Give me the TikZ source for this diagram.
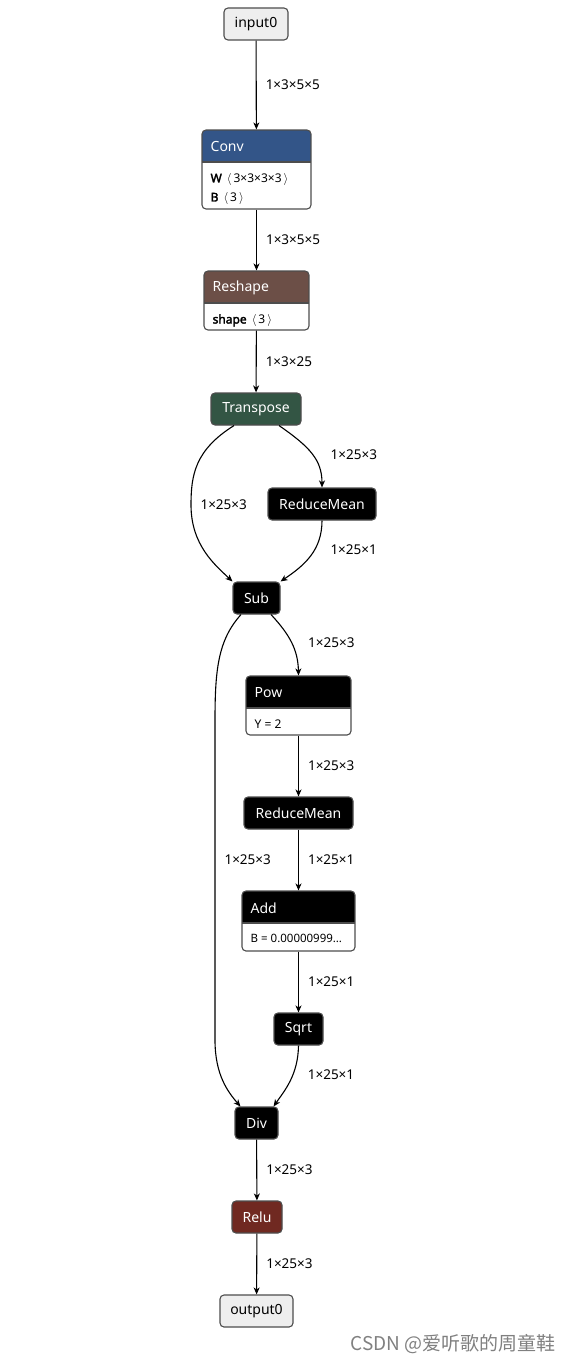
\documentclass[tikz,border=0pt]{standalone}
\usepackage{fontspec}
\setmainfont{Noto Sans}[AutoFakeBold=2.5]
\newfontfamily\cjkfont{Noto Sans CJK SC}
\usepackage{xcolor}
\usepackage{tikz}
\usetikzlibrary{arrows.meta}
\definecolor{convblue}{HTML}{335588}
\definecolor{shapebrown}{HTML}{6C4F47}
\definecolor{transgreen}{HTML}{335544}
\definecolor{actred}{HTML}{702921}
\definecolor{iogray}{HTML}{EEEEEE}
\definecolor{opline}{HTML}{4D4D4D}

\begin{document}
\begin{tikzpicture}[x=1pt, y=-1pt,
      op/.style={draw=opline, line width=1.1pt, rounded corners=4pt, fill=black,
                 text=white, minimum height=32pt, inner sep=0pt,
                 font=\fontsize{14}{16}\selectfont},
      io/.style={op, fill=iogray, text=black},
      hop/.style={op, fill=white, path picture={
                 \fill[#1, sharp corners] (path picture bounding box.north west)
                   rectangle ([yshift=-32pt]path picture bounding box.north east);
                 \draw[opline, line width=1.1pt, sharp corners]
                   ([yshift=-32pt]path picture bounding box.north west)
                   -- ([yshift=-32pt]path picture bounding box.north east);}},
      htxt/.style={anchor=west, inner sep=0pt, text=white,
                   font=\fontsize{14}{16}\selectfont},
      atxt/.style={anchor=west, inner sep=0pt, align=left,
                   font=\fontsize{12}{19}\selectfont},
      arr/.style={-{Stealth[length=7pt, width=6pt, inset=2pt]}, line width=1.1pt},
      lbl/.style={right=9pt, inner sep=0pt, font=\fontsize{13.5}{15}\selectfont}
    ]
    \useasboundingbox (0,0) rectangle (572,1364);
    % Nodes
    \node[io, minimum width=64pt]  (input)     at (256,24)      {input0};
    \node[hop=convblue, minimum width=109pt, minimum height=79pt]  (conv)    at (256.5,169.5) {};
    \node[hop=shapebrown, minimum width=105pt, minimum height=59pt] (reshape) at (256.5,300.5) {};
    \node[op, fill=transgreen, minimum width=90pt] (transpose) at (256,409)     {Transpose};
    \node[op, minimum width=108pt] (rmean)     at (322,504)     {ReduceMean};
    \node[op, minimum width=47pt]  (sub)       at (256.5,598)   {Sub};
    \node[hop=black, minimum width=105pt, minimum height=59pt] (pow) at (298.5,705.5) {};
    \node[op, minimum width=109pt] (rmean2)    at (298.5,813)   {ReduceMean};
    \node[hop=black, minimum width=113pt, minimum height=60pt] (add) at (298.5,921) {};
    \node[op, minimum width=49pt]  (sqrt)      at (298.5,1029)  {Sqrt};
    \node[op, minimum width=43pt]  (div)       at (256.5,1123)  {Div};
    \node[op, fill=actred, minimum width=50pt] (relu) at (257,1217) {Relu};
    \node[io, minimum width=73pt]  (output)    at (256.5,1311)  {output0};
    % Header and attribute texts
    \node[htxt] (conv-t)    at ([xshift=9pt,yshift=-17pt]conv.north west)    {Conv};
    \node[atxt] (conv-a)    at ([xshift=9pt,yshift=-59.5pt]conv.north west)
      {\textbf{W}\ \,$\langle$\,3×3×3×3\,$\rangle$\\\textbf{B}\ \,$\langle$\,3\,$\rangle$};
    \node[htxt] (reshape-t) at ([xshift=9pt,yshift=-17.5pt]reshape.north west) {Reshape};
    \node[atxt] (reshape-a) at ([xshift=9pt,yshift=-50pt]reshape.north west)
      {\textbf{shape}\ \,$\langle$\,3\,$\rangle$};
    \node[htxt] (pow-t)     at ([xshift=9pt,yshift=-17pt]pow.north west)     {Pow};
    \node[atxt] (pow-a)     at ([xshift=9pt,yshift=-49pt]pow.north west)     {Y = 2};
    \node[htxt] (add-t)     at ([xshift=9pt,yshift=-17.5pt]add.north west)   {Add};
    \node[atxt, font=\fontsize{11.5}{19}\selectfont] (add-a)
      at ([xshift=9pt,yshift=-48pt]add.north west) {B = 0.00000999…};
    % Arrows (main path)
    \draw[arr] (input)  -- node[lbl]{1×3×5×5} (conv);
    \draw[arr] (conv)   -- node[lbl]{1×3×5×5} (reshape);
    \draw[arr] (reshape) -- node[lbl]{1×3×25} (transpose);
    \draw[arr] ([xshift=-22pt]transpose.south) .. controls (195,450) and (191,475) .. (191,505)
      node[lbl]{1×25×3} .. controls (191,545) and (215,565) .. (sub.north west);
    \draw[arr] ([xshift=23pt]transpose.south) .. controls (310,447) and (322,460) .. (rmean.north)
      node[lbl, pos=0.5, right=9pt]{1×25×3};
    \draw[arr] (rmean.south) .. controls (322,550) and (305,565) .. (sub.north east)
      node[lbl, pos=0.4, right=6.5pt]{1×25×1};
    \draw[arr] ([xshift=14.5pt]sub.south) .. controls (290,635) and (298,650) .. (pow.north)
      node[lbl, pos=0.5, right=7pt]{1×25×3};
    \draw[arr] (pow)    -- node[lbl]{1×25×3} (rmean2);
    \draw[arr] (rmean2) -- node[lbl]{1×25×1} (add);
    \draw[arr] (add)    -- node[lbl]{1×25×1} (sqrt);
    \draw[arr] ([xshift=-15.5pt]sub.south) .. controls (218,640) and (215,670) .. (215,720)
      -- (215,1040) node[lbl, pos=0.4375]{1×25×3}
      .. controls (215,1075) and (228,1092) .. ([xshift=6pt]div.north west);
    \draw[arr] (sqrt.south) .. controls (298,1075) and (285,1090) .. ([xshift=-5pt]div.north east)
      node[lbl, pos=0.4, right=5.5pt]{1×25×1};
    \draw[arr] (div)    -- node[lbl]{1×25×3} (relu);
    \draw[arr] (relu)   -- node[lbl]{1×25×3} (output);
    % Watermark
    \node[anchor=east, inner sep=0pt, text=black!50, font=\cjkfont\fontsize{19}{21}\selectfont]
      (mark) at (556,1344) {CSDN @爱听歌的周童鞋};
  \end{tikzpicture}
\end{document}
